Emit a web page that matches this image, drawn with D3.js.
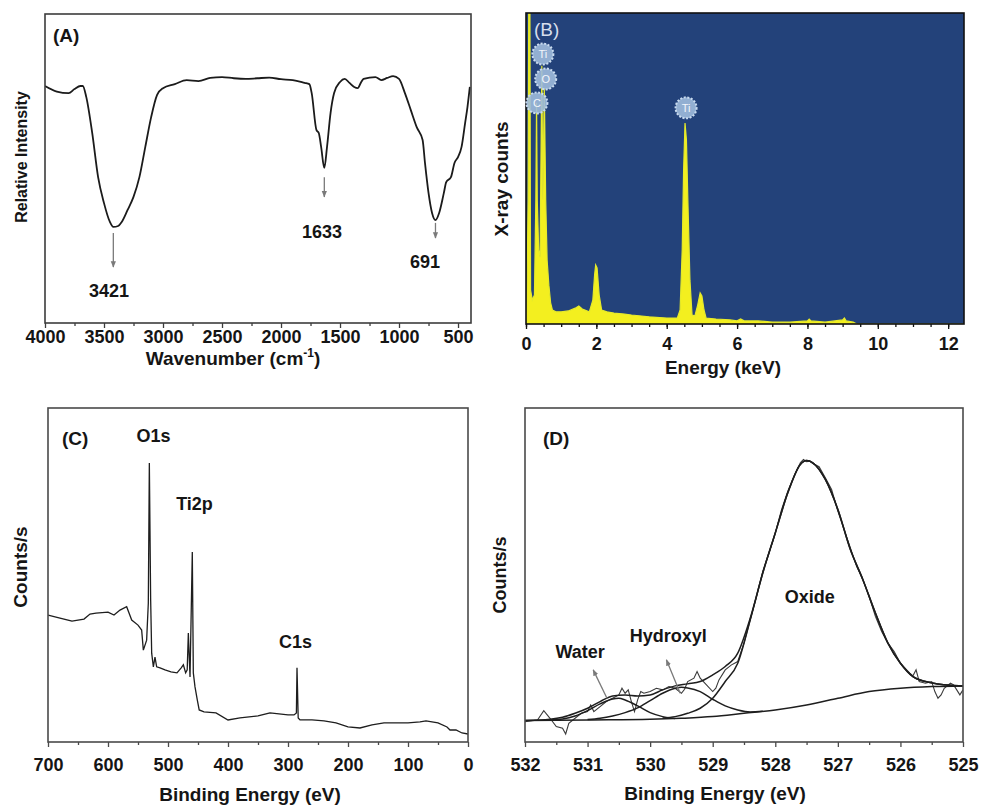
<!DOCTYPE html>
<html>
<head>
<meta charset="utf-8">
<script src="https://cdn.jsdelivr.net/npm/d3@7"></script>
<style>
body { margin: 0; background: #fff; }
svg text { font-family: "Liberation Sans", Arial, sans-serif; font-weight: bold; }
</style>
</head>
<body>
<svg id="fig" width="983" height="809"></svg>
<script>
// ---------- (A) FTIR ----------
var ftirWave = [4000,3900,3800,3750,3700,3680,3650,3600,3550,3500,3450,3421,3380,3350,3300,3250,3200,3150,3100,3050,
  3000,2900,2800,2700,2600,2500,2400,2300,2200,2100,2000,1900,1800,1760,1740,1700,1680,1660,1633,1610,
  1580,1550,1500,1460,1420,1380,1350,1320,1300,1200,1150,1100,1050,1000,950,900,850,800,780,750,
  720,691,660,620,600,560,530,500,470,440,420,400];
var ftirT = [76.7,74.9,74.4,75.7,76.7,76.7,73.1,61.5,47.2,38.8,32.7,31.1,31.4,32.7,36.6,40.8,47.2,57.0,66.7,73.8,
  76.0,77.3,78.6,78.3,79.3,79.6,79.2,79.0,79.2,79.4,78.9,78.6,77.7,77.3,74.4,62.5,61.5,57.0,50.2,57.0,
  68.0,74.4,78.0,79.0,77.7,76.4,76.0,78.0,79.0,79.6,78.6,79.3,79.9,79.0,74.4,68.9,63.4,59.2,51.8,42.1,
  35.6,33.3,35.6,42.1,45.6,47.2,51.8,53.7,57.0,64.7,69.9,76.4];
var ftirTicks = [4000,3500,3000,2500,2000,1500,1000,500];
var ftirPeaks = ["3421","1633","691"];
var ftirArrowWave = [3421,1633,691];
var ftirArrowTop = [29.1,47.2,32.4];
var ftirArrowEnd = [18.1,40.8,27.5];
var ftirLabelWave = [3458,1653,780];
var ftirLabelT = [8.4,27.5,17.8];

// ---------- (B) EDS ----------
var edsEnergy = [0.02,0.06,0.08,0.11,0.13,0.18,0.24,0.28,0.30,0.32,0.36,0.40,0.45,0.48,0.52,0.56,0.60,0.65,0.70,0.75,
  0.85,1.0,1.2,1.4,1.5,1.6,1.8,1.9,1.95,1.98,2.02,2.08,2.15,2.3,2.5,2.8,3.0,3.5,4.0,4.3,
  4.38,4.44,4.48,4.52,4.56,4.60,4.66,4.72,4.8,4.88,4.95,5.0,5.06,5.12,5.4,5.8,6.0,6.1,6.2,6.6,
  7.0,7.5,8.0,8.05,8.1,8.5,9.0,9.05,9.1,9.3,9.4,10,11,12.45];
var edsCounts = [29,399,1100,1100,109,77,93,399,711,399,238,215,830,399,759,399,206,125,68,45,
  39,39,42,51,58,48,39,77,158,190,180,93,45,39,35,32,29,23,19,19,
  45,238,495,646,592,400,141,29,26,61,100,90,45,19,16,13,10,16,10,10,
  6,6,10,16,10,6,13,19,10,6,0,0,0,0];
var edsTicks = [0,2,4,6,8,10,12];
var edsElem = ["Ti","O","C","Ti"];
var edsElemE = [0.48,0.56,0.31,4.55];
var edsElemC = [868,788,711,695];

// ---------- (C) XPS survey ----------
var surveyBE = [700,680,660,640,630,620,600,590,580,568.9,560.5,550,543.9,541.1,535.6,532.8,531.1,528.9,527.2,524.4,
  521.7,518.9,513.3,505,495,485,478,474.4,470.6,468,466.1,463.3,459.5,457.8,455,451.2,448,440,420,400,
  380,350,330,300,290,286,285,283,280,260,240,220,200,180,160,140,120,100,80,70,
  50,35,30,20,10,0];
var surveyCounts = [38.0,37.1,36.2,36.8,38.3,38.6,38.9,38.0,39.5,40.5,36.5,35.0,33.5,27.5,30.5,41.6,83.5,42.5,26.6,22.5,
  25.4,22.5,22.2,21.6,21.0,20.7,22.2,23.1,20.7,21.6,32.6,19.5,56.9,20.7,16.5,12.6,9.6,9.0,8.7,6.6,
  7.2,7.8,8.7,8.1,8.1,8.7,22.2,7.2,6.6,6.6,6.3,5.7,4.5,4.2,5.1,5.7,5.7,5.7,6.0,6.3,
  5.7,4.5,3.6,3.6,2.7,2.4];
var surveyTicks = [700,600,500,400,300,200,100,0];
var surveyPeaks = ["O1s","Ti2p","C1s"];
var surveyPeakBE = [524.2,455.8,287.5];
var surveyPeakY = [89.8,69.5,28.1];

// ---------- (D) O1s high resolution ----------
var o1sTicks = [532,531,530,529,528,527,526,525];
var rawBE = [532.0,531.8,531.7,531.6,531.5,531.4,531.35,531.3,531.2,531.1,531.0,530.95,530.9,530.8,530.7,530.6,530.5,530.45,530.4,530.35,
  530.3,530.25,530.2,530.15,530.1,530.0,529.9,529.8,529.7,529.6,529.5,529.45,529.4,529.3,529.25,529.2,529.1,529.0,528.95,528.9,
  528.8,528.7,528.65,528.6,528.5,528.4,528.3,528.2,528.1,528.0,527.9,527.8,527.7,527.6,527.55,527.5,527.45,527.4,527.3,527.2,
  527.1,527.0,526.9,526.8,526.7,526.6,526.5,526.4,526.3,526.2,526.1,526.0,525.9,525.85,525.8,525.75,525.7,525.6,525.5,525.45,
  525.4,525.35,525.3,525.2,525.15,525.1,525.05,525.0];
var rawCounts = [6.1,6.6,9.4,7.1,4.6,4.1,2.4,5.6,7.1,8.6,9.1,11.1,9.1,10.6,12.1,13.1,14.1,16.1,14.6,15.6,
  12.1,9.1,12.6,15.1,14.6,15.1,16.1,15.6,16.6,16.1,14.6,15.8,18.1,19.1,21.1,19.1,17.1,15.1,16.1,18.6,
  21.6,23.1,23.6,24.1,29.6,36.6,43.6,51.1,56.6,62.6,69.6,75.1,79.6,83.6,84.6,83.9,84.1,83.4,82.4,79.1,
  75.6,69.1,63.6,58.1,52.6,48.6,43.6,37.6,33.1,29.6,27.1,23.6,21.6,20.6,19.8,21.6,18.1,17.6,18.1,15.1,
  13.1,14.1,16.1,17.6,17.1,15.6,14.1,15.6];
var bgBE = [532,531,530,529.5,529,528.5,528,527.5,527,526.5,526,525.5,525];
var bgCounts = [6.4,6.6,6.8,7.1,7.6,8.6,9.6,11.1,13.1,15.1,16.1,16.6,16.8];
var waterBE = [531.6,531.4,531.2,531.0,530.8,530.6,530.5,530.4,530.2,530.0,529.8,529.6];
var waterCounts = [6.6,6.9,7.8,9.4,11.4,12.9,13.1,12.6,10.8,8.8,7.6,7.0];
var hydroxylBE = [531.0,530.8,530.6,530.4,530.2,530.0,529.8,529.6,529.5,529.4,529.2,529.0,528.8,528.6,528.4,528.2];
var hydroxylCounts = [6.7,7.1,7.8,8.8,10.2,12.4,14.6,16.1,16.4,16.2,15.1,12.8,10.8,9.6,9.0,9.2];
var oxideBE = [529.8,529.6,529.4,529.2,529.0,528.8,528.6,528.4,528.2,528.0,527.8,527.6,527.5,527.4,527.2,527.0,526.8,526.6,526.4,526.2,
  526.0,525.8,525.6,525.4,525.2,525.0];
var oxideCounts = [7.2,7.6,8.6,10.1,13.1,18.1,23.6,36.6,50.6,62.6,74.6,83.1,84.3,83.6,78.6,69.6,57.6,48.6,38.6,29.6,
  23.6,19.6,18.1,17.4,17.0,16.8];
var envBE = [532,531.6,531.4,531.2,531.0,530.8,530.6,530.4,530.2,530.0,529.8,529.6,529.4,529.2,529.0,528.8,528.6,528.4,528.2,528.0,
  527.8,527.6,527.5,527.4,527.2,527.0,526.8,526.6,526.4,526.2,526.0,525.8,525.6,525.4,525.2,525.0];
var envCounts = [6.4,6.8,7.4,8.6,10.1,12.1,13.8,14.1,13.8,14.1,15.6,16.8,17.4,18.1,20.1,22.6,26.6,37.1,50.6,62.6,
  74.6,83.1,84.3,83.6,78.6,69.6,57.6,48.6,38.6,29.6,23.6,19.6,18.1,17.4,17.0,16.8];
var o1sNames = ["Water","Hydroxyl","Oxide"];
var o1sNameBE = [531.12,529.71,527.45];
var o1sNameY = [25.1,29.9,41.6];
var o1sArrowFrom = [[530.69,13.1],[529.52,14.6]];
var o1sArrowTo = [[530.91,21.6],[529.74,24.6]];

var svg = d3.select("#fig");

svg.append("defs").append("marker")
  .attr("id", "head")
  .attr("viewBox", "0 0 10 10")
  .attr("refX", 9).attr("refY", 5)
  .attr("markerWidth", 5).attr("markerHeight", 5)
  .attr("orient", "auto")
  .append("path")
  .attr("d", "M0,1 L10,5 L0,9 z")
  .attr("fill", "#7a7a7a");

function panel(p) {
  var g = svg.append("g");
  var x = d3.scaleLinear().domain(p.xDomain).range([p.left, p.right]);
  var y = d3.scaleLinear().domain(p.yDomain).range([p.bottom, p.top]);

  if (p.bg) {
    g.append("rect").attr("x", p.left).attr("y", p.top)
      .attr("width", p.right - p.left).attr("height", p.bottom - p.top)
      .attr("fill", p.bg);
  }
  g.append("clipPath").attr("id", "clip" + p.id)
    .append("rect").attr("x", p.left).attr("y", p.top)
    .attr("width", p.right - p.left).attr("height", p.bottom - p.top);
  var plot = g.append("g").attr("clip-path", "url(#clip" + p.id + ")");

  // minor ticks
  var ax1 = g.append("g").attr("transform", "translate(0," + p.bottom + ")")
    .call(d3.axisBottom(x).tickValues(p.minor).tickSize(3).tickFormat(""));
  ax1.select(".domain").remove();
  // major ticks + labels
  var ax2 = g.append("g").attr("transform", "translate(0," + p.bottom + ")")
    .call(d3.axisBottom(x).tickValues(p.major).tickSize(5).tickPadding(p.pad).tickFormat(d3.format("d")));
  ax2.select(".domain").remove();
  g.selectAll(".tick line").attr("stroke", p.frame).attr("stroke-width", 1.3);
  ax2.selectAll("text").attr("font-size", "18px").attr("fill", "#151515")
    .style("font-family", "'Liberation Sans', Arial, sans-serif").style("font-weight", "bold");

  g.append("rect").attr("x", p.left).attr("y", p.top)
    .attr("width", p.right - p.left).attr("height", p.bottom - p.top)
    .attr("fill", "none").attr("stroke", p.frame).attr("stroke-width", 1.6);

  // y title
  g.append("text")
    .attr("transform", "translate(" + (p.yTitleX + p.yTitleSize * 0.36) + "," + p.yTitleY + ") rotate(-90)")
    .attr("text-anchor", "middle").attr("font-size", p.yTitleSize + "px").attr("fill", "#151515")
    .text(p.yTitle);
  // x title
  var xt = g.append("text")
    .attr("x", p.xTitleX).attr("y", p.xTitleY)
    .attr("text-anchor", "middle").attr("font-size", "19px").attr("fill", "#151515");
  xt.append("tspan").text(p.xTitle);
  if (p.xTitleSup) {
    xt.append("tspan").attr("font-size", "12px").attr("dy", -8).text(p.xTitleSup);
    xt.append("tspan").attr("dy", 8).text(")");
  }
  // panel letter
  g.append("text").attr("x", p.left + p.letterDx).attr("y", p.top + p.letterDy)
    .attr("font-size", "19px").attr("fill", p.letterColor || "#151515")
    .style("font-weight", p.letterWeight || "bold")
    .text(p.letter);

  return { g: g, plot: plot, x: x, y: y };
}

// ---------- panel A ----------
var A = panel({
  id: "A", left: 45, right: 471, top: 14, bottom: 323,
  xDomain: [4000, 390], yDomain: [0, 100],
  major: ftirTicks, minor: d3.range(3750, 390, -500), pad: 2, frame: "#3c3c3c",
  yTitle: "Relative Intensity", yTitleX: 21, yTitleY: 157, yTitleSize: 16,
  xTitle: "Wavenumber (cm", xTitleSup: "-1", xTitleX: 233, xTitleY: 365,
  letter: "(A)", letterDx: 8, letterDy: 28
});
var ftirPts = ftirWave.map(function(w, i) { return [w, ftirT[i]]; });
A.plot.append("path")
  .datum(ftirPts)
  .attr("fill", "none").attr("stroke", "#1b1b1b").attr("stroke-width", 1.8)
  .attr("d", d3.line().x(function(d) { return A.x(d[0]); }).y(function(d) { return A.y(d[1]); })
    .curve(d3.curveMonotoneX));
A.g.selectAll(".pk-arrow").data(ftirArrowWave).enter().append("line")
  .attr("x1", function(d) { return A.x(d); }).attr("x2", function(d) { return A.x(d); })
  .attr("y1", function(d, i) { return A.y(ftirArrowTop[i]); })
  .attr("y2", function(d, i) { return A.y(ftirArrowEnd[i]); })
  .attr("stroke", "#7a7a7a").attr("stroke-width", 1.3).attr("marker-end", "url(#head)");
A.g.selectAll(".pk-label").data(ftirPeaks).enter().append("text")
  .attr("x", function(d, i) { return A.x(ftirLabelWave[i]); })
  .attr("y", function(d, i) { return A.y(ftirLabelT[i]); })
  .attr("text-anchor", "middle").attr("font-size", "18px").attr("fill", "#151515")
  .text(function(d) { return d; });

// ---------- panel B ----------
var B = panel({
  id: "B", left: 526, right: 964, top: 13, bottom: 324, bg: "#23427a",
  xDomain: [0, 12.45], yDomain: [0, 1000],
  major: edsTicks, minor: d3.range(0, 12.45, 0.5), pad: 8, frame: "#111",
  yTitle: "X-ray counts", yTitleX: 501, yTitleY: 179, yTitleSize: 19,
  xTitle: "Energy (keV)", xTitleX: 723, xTitleY: 374,
  letter: "(B)", letterDx: 8, letterDy: 23, letterColor: "#d6deec", letterWeight: "normal"
});
var edsPts = edsEnergy.map(function(e, i) { return [e, edsCounts[i]]; });
B.plot.append("path")
  .datum(edsPts)
  .attr("fill", "#f3ef1f").attr("stroke", "#e6ea2a").attr("stroke-width", 1.2)
  .attr("d", d3.area().x(function(d) { return B.x(d[0]); })
    .y0(B.y(0)).y1(function(d) { return B.y(d[1]); }));
var tags = B.g.selectAll(".tag").data(edsElem).enter().append("g")
  .attr("transform", function(d, i) { return "translate(" + B.x(edsElemE[i]) + "," + B.y(edsElemC[i]) + ")"; });
tags.append("circle").attr("r", 10.5)
  .attr("fill", "#9ebbdb").attr("fill-opacity", 0.9)
  .attr("stroke", "#c9dbef").attr("stroke-width", 2).attr("stroke-dasharray", "2,1.6");
tags.append("text").attr("text-anchor", "middle").attr("dy", 4)
  .attr("font-size", "11px").attr("fill", "#f2f6fb").style("font-weight", "normal")
  .text(function(d) { return d; });

// ---------- panel C ----------
var C = panel({
  id: "C", left: 48, right: 468, top: 408, bottom: 742,
  xDomain: [700, 0], yDomain: [0, 100],
  major: surveyTicks, minor: d3.range(650, 0, -100), pad: 11, frame: "#4a4a4a",
  yTitle: "Counts/s", yTitleX: 20, yTitleY: 567, yTitleSize: 19,
  xTitle: "Binding Energy (eV)", xTitleX: 250, xTitleY: 801,
  letter: "(C)", letterDx: 14, letterDy: 37
});
var surveyPts = surveyBE.map(function(b, i) { return [b, surveyCounts[i]]; });
C.plot.append("path")
  .datum(surveyPts)
  .attr("fill", "none").attr("stroke", "#1e1e1e").attr("stroke-width", 1.3)
  .attr("d", d3.line().x(function(d) { return C.x(d[0]); }).y(function(d) { return C.y(d[1]); }));
C.g.selectAll(".pk-label").data(surveyPeaks).enter().append("text")
  .attr("x", function(d, i) { return C.x(surveyPeakBE[i]); })
  .attr("y", function(d, i) { return C.y(surveyPeakY[i]); })
  .attr("text-anchor", "middle").attr("font-size", "18px").attr("fill", "#151515")
  .text(function(d) { return d; });

// ---------- panel D ----------
var D = panel({
  id: "D", left: 525, right: 963, top: 408, bottom: 742,
  xDomain: [532, 525], yDomain: [0, 100],
  major: o1sTicks, minor: d3.range(531.5, 525, -1), pad: 11, frame: "#4a4a4a",
  yTitle: "Counts/s", yTitleX: 500, yTitleY: 575, yTitleSize: 18,
  xTitle: "Binding Energy (eV)", xTitleX: 715, xTitleY: 800,
  letter: "(D)", letterDx: 18, letterDy: 37
});
function xyLine(sc) {
  return d3.line().x(function(d) { return sc.x(d[0]); }).y(function(d) { return sc.y(d[1]); });
}
function pairs(a, b) { return a.map(function(v, i) { return [v, b[i]]; }); }
D.plot.append("path").datum(pairs(rawBE, rawCounts))
  .attr("fill", "none").attr("stroke", "#3a3a3a").attr("stroke-width", 1.1)
  .attr("d", xyLine(D));
var fits = [[bgBE, bgCounts], [waterBE, waterCounts], [hydroxylBE, hydroxylCounts], [oxideBE, oxideCounts], [envBE, envCounts]];
D.plot.selectAll(".fit").data(fits).enter().append("path")
  .attr("fill", "none").attr("stroke", "#1e1e1e").attr("stroke-width", 1.5)
  .attr("d", function(f) { return xyLine(D).curve(d3.curveMonotoneX)(pairs(f[0], f[1])); });
D.g.selectAll(".o1s-arrow").data(o1sArrowFrom).enter().append("line")
  .attr("x1", function(d) { return D.x(d[0]); }).attr("y1", function(d) { return D.y(d[1]); })
  .attr("x2", function(d, i) { return D.x(o1sArrowTo[i][0]); })
  .attr("y2", function(d, i) { return D.y(o1sArrowTo[i][1]); })
  .attr("stroke", "#7a7a7a").attr("stroke-width", 1.3).attr("marker-end", "url(#head)");
D.g.selectAll(".o1s-label").data(o1sNames).enter().append("text")
  .attr("x", function(d, i) { return D.x(o1sNameBE[i]); })
  .attr("y", function(d, i) { return D.y(o1sNameY[i]); })
  .attr("text-anchor", "middle").attr("font-size", "18px").attr("fill", "#151515")
  .text(function(d) { return d; });
</script>
</body>
</html>
